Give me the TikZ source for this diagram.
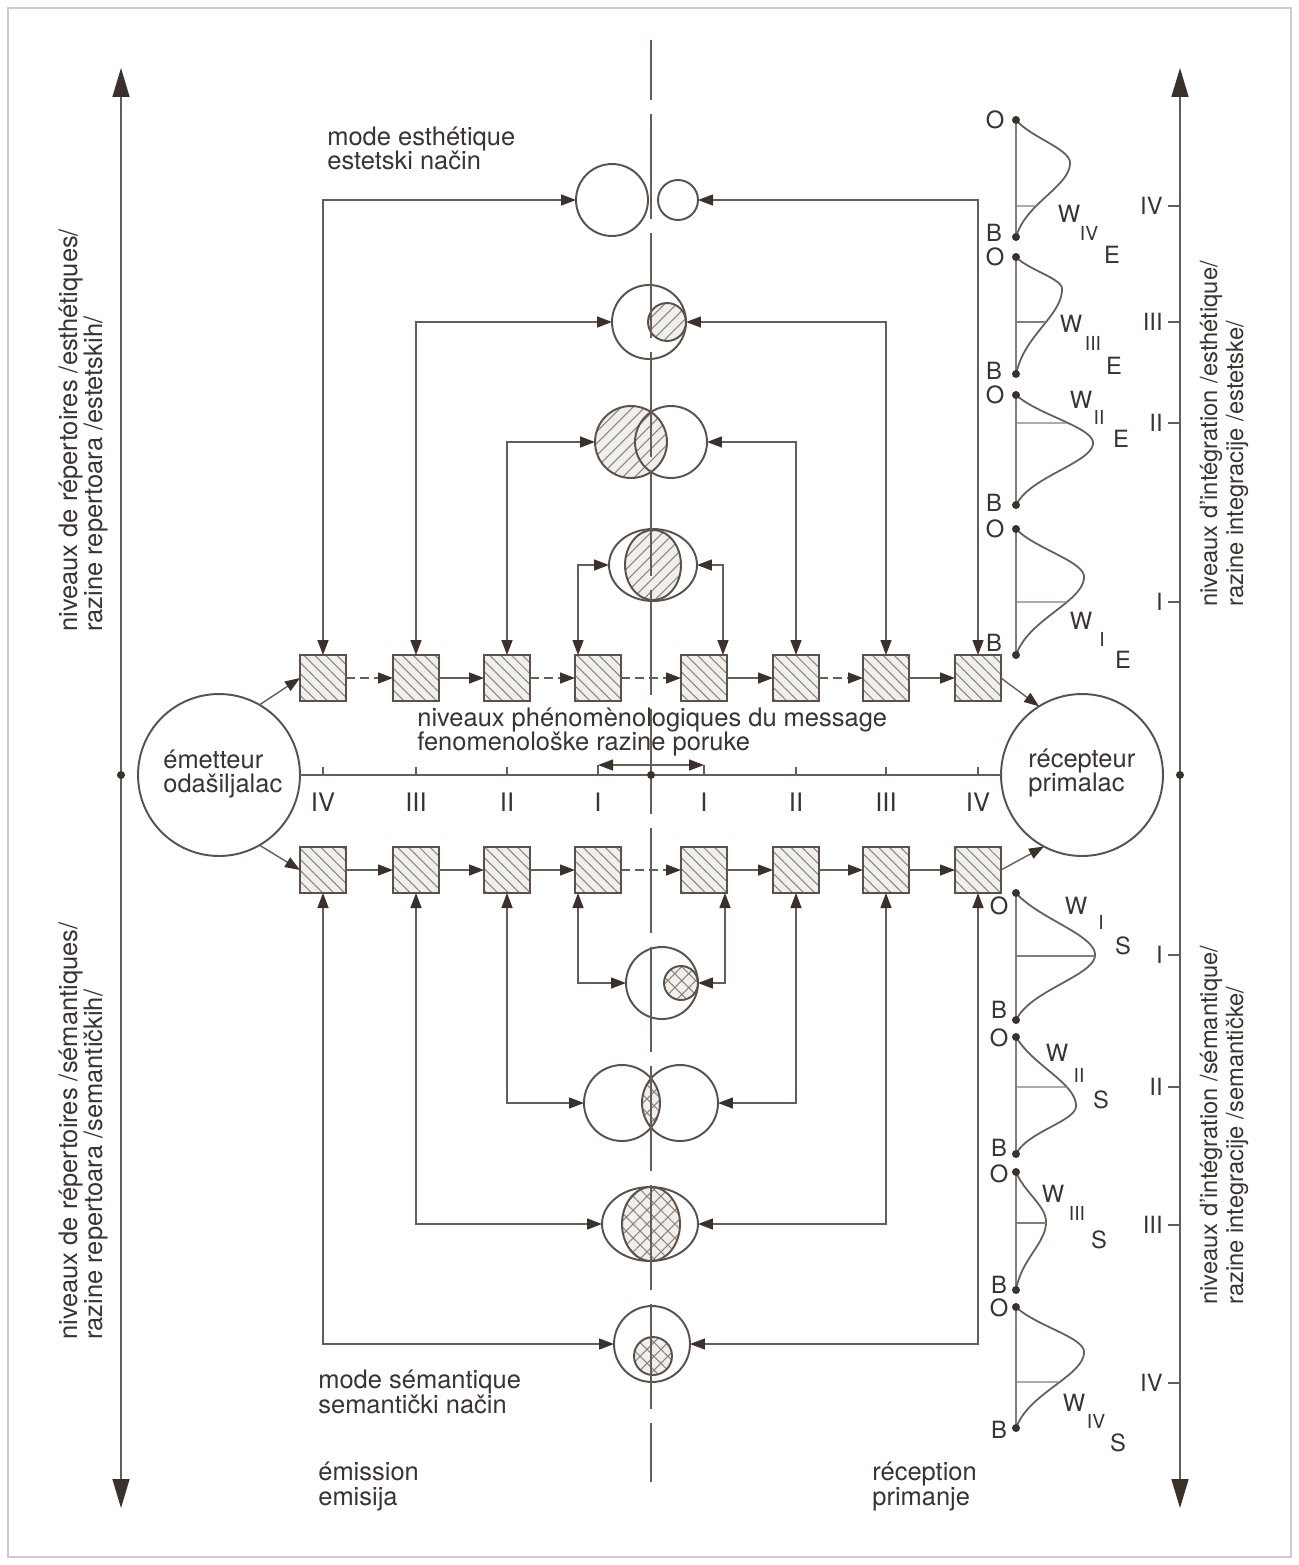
\documentclass[tikz,border=0pt]{standalone}
\usepackage{fontspec}
\setmainfont{TeX Gyre Heros}
\usetikzlibrary{arrows.meta,patterns.meta,shapes.geometric,intersections,calc}
\definecolor{linecol}{HTML}{665D58}
\definecolor{shapecol}{HTML}{5A514C}
\definecolor{tipcol}{HTML}{3A312D}
\definecolor{textcol}{HTML}{3A3330}
\definecolor{hatchcol}{HTML}{8C837E}
\definecolor{fillcol}{HTML}{F1EFEC}
\definecolor{framecol}{HTML}{CFCBC8}

\tikzset{
  >={Triangle[length=0.3cm,width=0.22cm,color=tipcol]},
  wire/.style={draw=linecol,line width=0.8pt},
  basewire/.style={draw=linecol!80,line width=0.7pt},
  curvewire/.style={draw=linecol,line width=1pt},
  flow/.style={wire,->},
  link/.style={wire,<->},
  broken/.style={dash pattern=on 5pt off 3pt},
  outline/.style={draw=shapecol,line width=1.1pt,inner sep=0pt,outer sep=0pt},
  ring/.style={outline,circle},
  oval/.style={outline,ellipse},
  hatchsq/.style={preaction={fill=fillcol},pattern={Lines[angle=-45,distance=4.4pt,line width=0.6pt]},pattern color=hatchcol},
  hatchline/.style={preaction={fill=fillcol},pattern={Lines[angle=45,distance=4.8pt,line width=0.6pt]},pattern color=hatchcol},
  hatchcross/.style={preaction={fill=fillcol},pattern={Hatch[angle=45,distance=5.6pt,line width=0.6pt]},pattern color=hatchcol},
  sqbox/.style={outline,rectangle,minimum size=0.92cm,hatchsq},
  txt/.style={inner sep=0pt,text=textcol,font=\fontsize{14.5}{16}\selectfont},
  rtxt/.style={inner sep=0pt,text=textcol,font=\fontsize{13.5}{15}\selectfont},
  lbl/.style={inner sep=0pt,text=textcol,font=\fontsize{13.5}{15}\selectfont},
  sublbl/.style={inner sep=0pt,text=textcol,font=\fontsize{11}{12}\selectfont},
  dot/.style={circle,fill=tipcol,inner sep=0pt,minimum size=0.16cm},
}

% bell-shaped distribution lying on its side along the line x = 1016
% #1 id, #2 top y, #3 peak y, #4 peak x, #5 bottom y, #6 y of the mode line
\newcommand{\bellplot}[6]{%
  \draw[basewire] (1016,#2) -- (1016,#5);
  \draw[curvewire,name path=bc#1]
    plot[domain=#2:#3,samples=40,variable=\t]
      ({1016+(#4-1016)*(exp(-((\t-#3)*1.35/(#3-#2))*((\t-#3)*1.35/(#3-#2)))-0.1616)/0.8384},\t)
    -- plot[domain=#3:#5,samples=40,variable=\t]
      ({1016+(#4-1016)*(exp(-((\t-#3)*1.6/(#5-#3))*((\t-#3)*1.6/(#5-#3)))-0.0773)/0.9227},\t);
  \path[name path=bh#1] (1017,#6) -- (1200,#6);
  \draw[basewire,name intersections={of=bc#1 and bh#1,by=bm#1}] (1016,#6) -- (bm#1);
  \node[dot] (bt#1) at (1016,#2) {};
  \node[dot] (bb#1) at (1016,#5) {};
}

\begin{document}
\begin{tikzpicture}[x=0.02cm,y=-0.02cm]
\useasboundingbox (0,0) rectangle (1298,1565);
\fill[white] (0,0) rectangle (1298,1565);
\draw[framecol,line width=0.6pt] (8,8) rectangle (1291,1557);

% ---------- outer axes ----------
\coordinate (axLt) at (121,68);
\coordinate (axLb) at (121,1508);
\coordinate (axRt) at (1180,68);
\coordinate (axRb) at (1180,1508);
\draw[wire,{Triangle[length=0.58cm,width=0.34cm,color=tipcol]}-{Triangle[length=0.58cm,width=0.34cm,color=tipcol]}] (axLb) -- (axLt);
\draw[wire,{Triangle[length=0.58cm,width=0.34cm,color=tipcol]}-{Triangle[length=0.58cm,width=0.34cm,color=tipcol]}] (axRb) -- (axRt);
\node[dot] (dL) at (121,775) {};
\node[dot] (dR) at (1180,775) {};

% ticks of the integration levels
\foreach \yy/\tx [count=\k] in {206/IV,322/III,423/II,602/I,955/I,1087/II,1225/III,1383/IV}{
  \draw[wire] (1180,\yy) -- (1168,\yy);
  \node[lbl,anchor=east] (tk\k) at (1163,\yy) {\tx};
}

% ---------- emitter / receiver ----------
\node[ring,minimum size=3.24cm] (em) at (219,775) {};
\node[ring,minimum size=3.24cm] (rc) at (1082,775) {};
\node[txt,anchor=base west] (emT1) at (163,768) {émetteur};
\node[txt,anchor=base west] (emT2) at (163,792) {odašiljalac};
\node[txt,anchor=base west] (rcT1) at (1028,767) {récepteur};
\node[txt,anchor=base west] (rcT2) at (1028,791) {primalac};

% ---------- squares ----------
\foreach \nm/\xx in {L4/323,L3/416,L2/507,L1/598,R1/704,R2/796,R3/886,R4/978}{
  \node[sqbox] (T\nm) at (\xx,678) {};
  \node[sqbox] (B\nm) at (\xx,870) {};
}

% ---------- aesthetic modes (top) ----------
\node[ring,minimum size=1.44cm] (e4a) at (612,200) {};
\node[ring,minimum size=0.8cm] (e4b) at (678,200) {};
\node[ring,minimum size=1.48cm] (e3o) at (649,322) {};
\node[ring,minimum size=0.76cm,hatchline] (e3i) at (667,322) {};
\node[ring,minimum size=1.44cm,hatchline] (e2a) at (631,442) {};
\node[ring,minimum size=1.44cm] (e2b) at (671,442) {};
\node[oval,minimum width=1.76cm,minimum height=1.44cm] (e1o) at (653,565) {};
\node[oval,minimum width=1.12cm,minimum height=1.4cm,hatchline] (e1i) at (653,565) {};

% ---------- semantic modes (bottom) ----------
\node[ring,minimum size=1.44cm] (s1o) at (662,983) {};
\node[ring,minimum size=0.68cm,hatchcross] (s1i) at (681,983) {};
\begin{scope}
  \clip (622,1103) circle[radius=38];
  \fill[hatchcross] (680,1103) circle[radius=38];
\end{scope}
\node[ring,minimum size=1.52cm] (s2a) at (622,1103) {};
\node[ring,minimum size=1.52cm] (s2b) at (680,1103) {};
\node[oval,minimum width=1.92cm,minimum height=1.48cm] (s3o) at (650,1224) {};
\node[oval,minimum width=1.16cm,minimum height=1.48cm,hatchcross] (s3i) at (651,1224) {};
\node[ring,minimum size=1.52cm] (s4o) at (652,1344) {};
\node[ring,minimum size=0.76cm,hatchcross] (s4i) at (653,1356) {};

% ---------- centre line ----------
\coordinate (ctop) at (651,40);
\coordinate (cbot) at (651,1482);
\draw[wire,dash pattern=on 2.1cm off 0.28cm,dash phase=0.9cm] (ctop) -- (cbot);

% ---------- phenomenological axis ----------
\draw[wire] (em.east) -- (rc.west);
\foreach \nm in {L4,L3,L2,R2,R3,R4}{
  \draw[wire] (T\nm |- em.east) -- ++(0,-8);
}
\coordinate (brL) at (598,765);
\coordinate (brR) at (704,765);
\draw[wire] (brL) -- (brL |- em.east);
\draw[wire] (brR) -- (brR |- em.east);
\draw[link] (brL) -- (brR);
\node[dot] (dC) at (651,775) {};
\foreach \nm/\tx in {L4/IV,L3/III,L2/II,L1/I,R1/I,R2/II,R3/III,R4/IV}{
  \node[txt,anchor=base] (n\nm) at (T\nm |- 0,811) {\tx};
}

% ---------- message flow ----------
\draw[flow] (em.60) -- (TL4.west);
\draw[flow,broken] (TL4.east) -- (TL3.west);
\draw[flow] (TL3.east) -- (TL2.west);
\draw[flow,broken] (TL2.east) -- (TL1.west);
\draw[flow,broken] (TL1.east) -- (TR1.west);
\draw[flow] (TR1.east) -- (TR2.west);
\draw[flow,broken] (TR2.east) -- (TR3.west);
\draw[flow] (TR3.east) -- (TR4.west);
\draw[flow] (TR4.east) -- (rc.122);

\draw[flow] (em.-60) -- (BL4.west);
\draw[flow] (BL4.east) -- (BL3.west);
\draw[flow] (BL3.east) -- (BL2.west);
\draw[flow] (BL2.east) -- (BL1.west);
\draw[flow,broken] (BL1.east) -- (BR1.west);
\draw[flow] (BR1.east) -- (BR2.west);
\draw[flow] (BR2.east) -- (BR3.west);
\draw[flow] (BR3.east) -- (BR4.west);
\draw[flow] (BR4.east) -- (rc.-118);

% ---------- links to the modes ----------
\draw[link] (TL4.north) |- (e4a.west);
\draw[link] (TR4.north) |- (e4b.east);
\draw[link] (TL3.north) |- (e3o.west);
\draw[link] (TR3.north) |- (e3o.east);
\draw[link] (TL2.north) |- (e2a.west);
\draw[link] (TR2.north) |- (e2b.east);
\draw[link] ([xshift=-0.4cm]TL1.north) |- (e1o.west);
\draw[link] ([xshift=0.38cm]TR1.north) |- (e1o.east);

\draw[link] (BL4.south) |- (s4o.west);
\draw[link] (BR4.south) |- (s4o.east);
\draw[link] (BL3.south) |- (s3o.west);
\draw[link] (BR3.south) |- (s3o.east);
\draw[link] (BL2.south) |- (s2a.west);
\draw[link] (BR2.south) |- (s2b.east);
\draw[link] ([xshift=-0.4cm]BL1.south) |- (s1o.west);
\draw[link] ([xshift=0.42cm]BR1.south) |- (s1o.east);

% ---------- distributions ----------
\bellplot{a}{120}{163}{1070}{237}{206}
\bellplot{b}{257}{289}{1062}{374}{322}
\bellplot{c}{395}{443}{1093}{505}{423}
\bellplot{d}{529}{577}{1084}{655}{602}
\bellplot{e}{893}{955}{1095}{1020}{956}
\bellplot{f}{1037}{1106}{1076}{1154}{1087}
\bellplot{g}{1172}{1222}{1046}{1290}{1223}
\bellplot{h}{1307}{1352}{1084}{1428}{1382}

\foreach \yy [count=\k] in {120,257,395,529}{
  \node[lbl] (oT\k) at (995,\yy) {O};
}
\foreach \yy [count=\k] in {233,371,503,643}{
  \node[lbl] (bT\k) at (994,\yy) {B};
}
\foreach \yy [count=\k] in {906,1038,1174,1308}{
  \node[lbl] (oB\k) at (999,\yy) {O};
}
\foreach \yy [count=\k] in {1010,1148,1285,1430}{
  \node[lbl] (bB\k) at (999,\yy) {B};
}

% W labels with level and mode indices
\foreach \id/\wx/\wy/\nx/\ny/\nt/\mx/\my/\mt in {
  a/1069/214/1089/233/IV/1112/255/E,
  b/1071/324/1093/343/III/1114/366/E,
  c/1081/400/1099/417/II/1121/439/E,
  d/1081/621/1102/639/I/1123/660/E,
  e/1076/906/1101/922/I/1123/946/S,
  f/1057/1053/1079/1075/II/1101/1100/S,
  g/1053/1194/1077/1213/III/1099/1240/S,
  h/1074/1403/1096/1421/IV/1118/1443/S}{
  \node[lbl] (w\id) at (\wx,\wy) {W};
  \node[sublbl] (wn\id) at (\nx,\ny) {\nt};
  \node[lbl] (wm\id) at (\mx,\my) {\mt};
}

% ---------- texts ----------
\node[txt,anchor=base west] (mE1) at (327,145) {mode esthétique};
\node[txt,anchor=base west] (mE2) at (327,169) {estetski način};
\node[txt,anchor=base west] (mS1) at (318,1388) {mode sémantique};
\node[txt,anchor=base west] (mS2) at (318,1413) {semantički način};
\node[txt,anchor=base west] (ph1) at (417,726) {niveaux phénomènologiques du message};
\node[txt,anchor=base west] (ph2) at (417,750) {fenomenološke razine poruke};
\node[txt,anchor=base west] (emi1) at (318,1480) {émission};
\node[txt,anchor=base west] (emi2) at (318,1505) {emisija};
\node[txt,anchor=base west] (rec1) at (872,1480) {réception};
\node[txt,anchor=base west] (rec2) at (872,1505) {primanje};

\node[txt,rotate=90,anchor=base west] (lt1) at (77,632) {niveaux de répertoires /esthétiques/};
\node[txt,rotate=90,anchor=base west] (lt2) at (102,632) {razine repertoara /estetskih/};
\node[txt,rotate=90,anchor=base west] (lb1) at (77,1340) {niveaux de répertoires /sémantiques/};
\node[txt,rotate=90,anchor=base west] (lb2) at (102,1340) {razine repertoara /semantičkih/};
\node[rtxt,rotate=90,anchor=base west] (rt1) at (1217,607) {niveaux d'intégration /esthétique/};
\node[rtxt,rotate=90,anchor=base west] (rt2) at (1243,607) {razine integracije /estetske/};
\node[rtxt,rotate=90,anchor=base west] (rb1) at (1217,1305) {niveaux d'intégration /sémantique/};
\node[rtxt,rotate=90,anchor=base west] (rb2) at (1243,1305) {razine integracije /semantičke/};
\end{tikzpicture}
\end{document}
